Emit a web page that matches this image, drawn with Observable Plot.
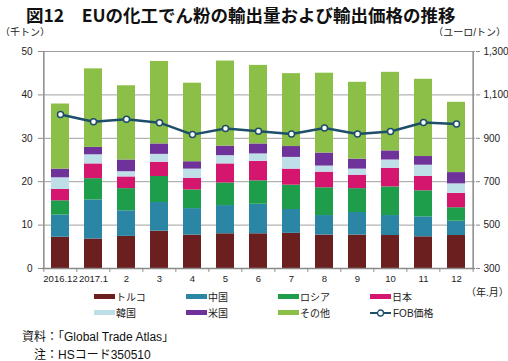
<!DOCTYPE html>
<html><head><meta charset="utf-8">
<script src="https://cdn.jsdelivr.net/npm/d3@7"></script>
<script src="https://cdn.jsdelivr.net/npm/@observablehq/plot@0.6"></script>
<style>
body{margin:0;background:#fff;}
#wrap{position:relative;width:508px;height:361px;overflow:hidden;font-family:"Liberation Sans","Noto Sans CJK JP",sans-serif;color:#222;}
.abs{position:absolute;white-space:nowrap;}
#title{left:26px;top:2px;font-size:17.5px;font-weight:bold;font-family:"Noto Sans CJK JP",sans-serif;color:#111;letter-spacing:0px;}
.unit{font-size:10px;top:24px;}
.leg{font-size:10px;display:flex;align-items:center;}
.sw{display:inline-block;width:21px;height:5px;margin-right:1px;}
.cap{font-size:12px;line-height:1;color:#111;}
</style></head>
<body><div id="wrap">
<div id="title" class="abs">図12　EUの化工でん粉の輸出量および輸出価格の推移</div>
<div class="abs unit" style="left:0px;">（千トン）</div>
<div class="abs unit" style="right:2px;">（ユーロ/トン）</div>
<div id="chart" class="abs" style="left:0;top:36px;"></div>
<div class="abs" style="left:466px;top:284px;font-size:10px;">（年.月）</div>
<div id="legend"></div>
<div class="abs cap" style="left:22px;top:331px;">資料：「Global Trade Atlas」</div>
<div class="abs cap" style="left:34px;top:349px;">注：HSコード350510</div>
</div>
<script>
const months = ["2016.12","2017.1","2","3","4","5","6","7","8","9","10","11","12"];
const countries = ["トルコ","中国","ロシア","日本","韓国","米国","その他"];
const colors = ["#6B1F1F","#2B86A5","#1E9E4A","#D5166E","#BFDFE8","#6F329A","#8CBF48"];
const turkey = [7.2, 6.8, 7.4, 8.6, 7.7, 8.0, 8.0, 8.1, 7.7, 7.7, 7.6, 7.3, 7.6];
const china  = [5.1, 9.0, 5.9, 6.6, 6.1, 6.5, 6.8, 5.5, 4.5, 5.2, 4.6, 4.6, 3.3];
const russia = [3.3, 4.9, 5.1, 6.0, 4.3, 5.2, 5.4, 5.6, 6.4, 5.5, 6.6, 6.0, 3.1];
const japan  = [2.6, 3.4, 2.7, 3.3, 2.7, 4.4, 4.5, 3.7, 3.6, 3.1, 4.3, 3.3, 3.3];
const korea  = [2.7, 2.1, 1.2, 1.8, 2.1, 1.9, 1.7, 2.7, 1.4, 1.4, 1.9, 2.6, 2.2];
const usa    = [2.0, 1.7, 2.7, 2.4, 1.7, 2.2, 2.3, 2.5, 3.0, 2.3, 2.1, 2.0, 2.6];
const others = [15.0, 18.1, 17.1, 19.0, 18.1, 19.6, 18.1, 16.8, 18.4, 17.7, 18.1, 17.8, 16.2];
const fob    = [1010, 976, 988, 972, 917, 945, 933, 920, 947, 920, 931, 973, 966];
const leftTicks = [0, 10, 20, 30, 40, 50];
const rightTicks = [300, 500, 700, 900, 1100, 1300];
const fobLabel = "FOB価格";

const series = [turkey, china, russia, japan, korea, usa, others];
const rows = [];
countries.forEach((c, k) => months.forEach((m, i) => rows.push({month: m, country: c, value: series[k][i]})));
const fobRows = months.map((m, i) => ({month: m, fob: fob[i]}));
// right axis maps 300..1300 onto left 0..50
const toLeft = v => (v - 300) / 20;

const W = 508, H = 256, mL = 42, mR = 33, mT = 15, mB = 24;
const step = (W - mL - mR) / months.length;
const axisCol = "#8a8a8a", gridCol = "#a0a0a0", lineCol = "#1D4E6A";

const chart = Plot.plot({
  width: W, height: H, marginTop: mT, marginBottom: mB, marginLeft: mL, marginRight: mR,
  style: {fontFamily: '"Liberation Sans","Noto Sans CJK JP",sans-serif', fontSize: "10px", color: "#222", background: "white", overflow: "visible"},
  x: {domain: months, paddingInner: 0.44, paddingOuter: 0.22, label: null},
  y: {domain: [0, 50], label: null},
  color: {domain: countries, range: colors},
  marks: [
    Plot.ruleY(leftTicks.slice(1), {stroke: gridCol, strokeWidth: 1}),
    Plot.barY(rows, {x: "month", y: "value", fill: "country", order: countries}),
    Plot.ruleY([0], {stroke: axisCol, strokeWidth: 1.5}),
    Plot.ruleX([months[0]], {y1: 0, y2: 50, dx: -step/2, stroke: axisCol, strokeWidth: 1.5}),
    Plot.ruleX([months[months.length-1]], {y1: 0, y2: 50, dx: step/2, stroke: axisCol, strokeWidth: 1.5}),
    Plot.ruleX(months, {y1: 0, y2: -0.9, dx: -step/2, stroke: axisCol}),
    Plot.ruleX([months[months.length-1]], {y1: 0, y2: -0.9, dx: step/2, stroke: axisCol}),
    Plot.axisY({ticks: leftTicks, tickSize: 4, tickPadding: 6, stroke: axisCol, label: null}),
    Plot.axisY({anchor: "right", ticks: leftTicks, tickSize: 4, tickPadding: 4, stroke: axisCol, label: null,
      tickFormat: d => d3.format(",")(rightTicks[leftTicks.indexOf(d)])}),
    Plot.axisX({tickSize: 0, tickPadding: 7, label: null, fontSize: 9.5}),
    Plot.line(fobRows, {x: "month", y: d => toLeft(d.fob), stroke: lineCol, strokeWidth: 2.5}),
    Plot.dot(fobRows, {x: "month", y: d => toLeft(d.fob), r: 3, fill: "white", stroke: lineCol, strokeWidth: 1.5})
  ]
});
document.getElementById("chart").appendChild(chart);

// legend
const leg = document.getElementById("legend");
const colX = [94, 186, 278, 370];
const items = countries.map((c, k) => ({label: c, color: colors[k]})).concat([{label: fobLabel, line: true}]);
items.forEach((it, i) => {
  const row = Math.floor(i / 4), col = i % 4;
  const d = document.createElement("div");
  d.className = "abs leg";
  d.style.left = colX[col] + "px";
  d.style.top = (289 + row * 16) + "px";
  if (it.line) {
    d.innerHTML = `<svg width="22" height="10" style="margin-right:1px"><line x1="0" y1="5" x2="21" y2="5" stroke="${lineCol}" stroke-width="2"/><circle cx="10.5" cy="5" r="3" fill="white" stroke="${lineCol}" stroke-width="1.3"/></svg><span>${it.label}</span>`;
  } else {
    d.innerHTML = `<span class="sw" style="background:${it.color}"></span><span>${it.label}</span>`;
  }
  leg.appendChild(d);
});
</script>
</body></html>
